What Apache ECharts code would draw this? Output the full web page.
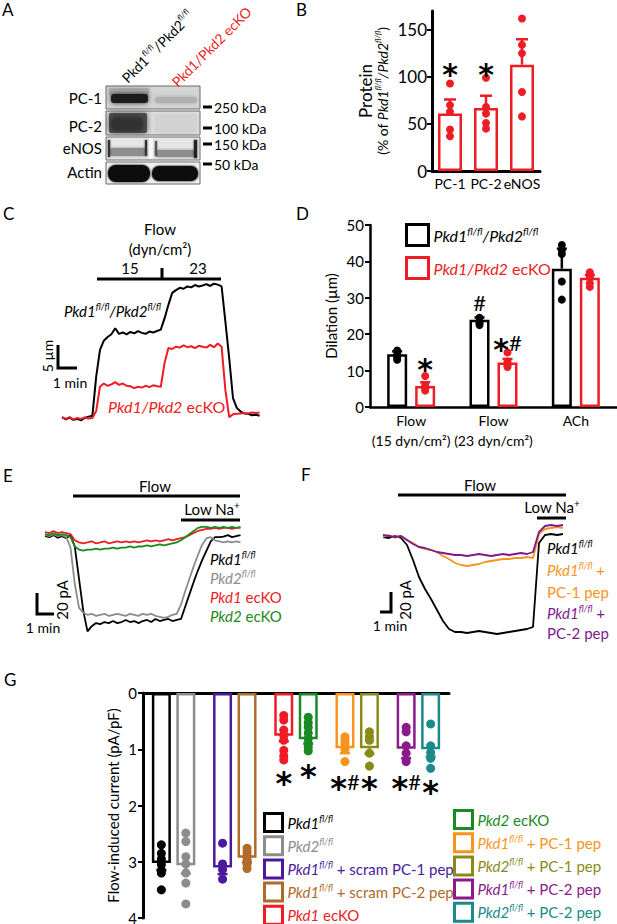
<!DOCTYPE html>
<html><head><meta charset="utf-8">
<script src="https://cdn.jsdelivr.net/npm/echarts@6/dist/echarts.min.js"></script>
<style>html,body{margin:0;padding:0;background:#fff}#c{width:617px;height:924px}</style>
</head><body><div id="c"></div>
<script>
const FONT = 'Lato, "Open Sans", sans-serif';

// ---------- Panel B data ----------
const bCategories = ['PC-1', 'PC-2', 'eNOS'];
const bMeans = [61, 67, 113];
const bSem = [15, 13, 27];
const bPoints = [[93, 70, 63, 44, 37], [99, 68, 61, 51, 45], [162, 134, 125, 84, 58]];
const bMarkText = ['*', '*', ''];
const bMarkY = [109, 109, null];
const bYTicks = [0, 50, 100, 150];

// ---------- Panel C data (diameter change, µm; 0.2 min steps) ----------
const cStep = 0.2;
const cControl = [0.2,-0.3,0.1,-0.4,-0.2,-0.5,0,0.3,0.5,9,14.8,16.8,17.6,18.2,19.5,18.3,18.6,18.2,18.7,18.4,18.9,18.5,18.3,18.8,18.6,18.9,19.2,21.7,24.6,27.2,27.8,28.3,28.1,28.6,28.4,28.9,28.6,28.8,29.1,28.7,29.2,29.0,28.6,20.9,13,4.3,2.2,1.4,1.0,0.9,0.6,0.7,0.5];
const cKO = [0.1,-0.2,0.2,-0.3,0,-0.2,0.1,-0.1,0.0,1.5,6.8,7.5,7.0,7.3,7.8,7.2,7.5,7.0,6.9,6.5,6.8,6.6,7.0,6.7,7.1,6.9,6.8,12,15.2,15.0,15.5,15.3,15.8,15.4,15.6,15.2,15.7,15.5,15.3,15.9,15.4,16.2,15.5,6,0.2,0.8,0.9,1.0,1.1,1.0,1.2,1.1,1.2];

// ---------- Panel D data ----------
const dCategories = ['Flow\n(15 dyn/cm\u00b2)', 'Flow\n(23 dyn/cm\u00b2)', 'ACh'];
const dSeriesNames = ['Pkd1fl/fl/Pkd2fl/fl', 'Pkd1/Pkd2 ecKO'];
const dControlMeans = [14.5, 24, 38];
const dControlSem = [0.8, 0.6, 5.5];
const dKOMeans = [5.8, 12.2, 35.5];
const dKOSem = [1.0, 1.0, 0.8];
const dControlPoints = [[15.5, 14.5, 13.5, 13], [24.5, 23.5, 23, 22.5], [44.5, 43, 42, 34.5, 29.5]];
const dKOPoints = [[8.5, 6, 5, 4.5], [15, 12.5, 11.5, 11], [37, 36, 35.5, 34, 33]];
const dControlMarkText = ['', '#', ''];
const dControlMarkY = [null, 28.5, null];
const dKOMarkText = ['*', '*#', ''];
const dKOMarkY = [12, 17.5, null];

// ---------- Panel E data (current, pA; 0.25 min steps) ----------
const eStep = 0.25;
const ePkd1fl = [-4,-5,-3,-5.5,-4,-6,-3,-14,-45,-76,-96,-91,-88,-89,-87,-88,-86,-88,-87,-85,-87,-86,-88,-86,-85,-87,-84,-86,-85,-84,-86,-85,-84,-72,-60,-48,-37,-27,-18,-9,-5,-5,-4.5,-3,-5,-4,-3];
const ePkd2fl = [-3,-4,-2,-4,-3,-5,-15,-50,-73,-78,-80,-79,-81,-80,-79,-81,-80,-79,-80,-81,-79,-80,-81,-79,-80,-79,-81,-82,-83,-82,-80,-79,-70,-57,-45,-33,-22,-12,-6,-5,-8,-9,-10,-9,-10,-9,-10];
const ePkd1KO = [0,-1,1,-1,0,-1,-2,-8,-10,-11,-10,-9,-11,-10,-9,-11,-10,-9,-10,-9,-10,-9,-10,-9,-8,-9,-8,-9,-8,-7,-8,-7,-6,-5,-3,-1,1,2,3,3,4,3,4,4,3,4,4];
const ePkd2KO = [-2,-3,-1,-3,-2,-3,-5,-14,-17,-18,-17,-17,-16,-17,-16,-16,-15,-16,-15,-15,-14,-15,-14,-14,-13,-14,-13,-12,-13,-12,-11,-10,-8,-5,-2,1,4,5,5,4,5,4,5,4,5,4,5];
const eLabels = ['Pkd1fl/fl', 'Pkd2fl/fl', 'Pkd1 ecKO', 'Pkd2 ecKO'];

// ---------- Panel F data (current, pA; 0.5 min steps) ----------
const fStep = 0.5;
const fControl = [0,-1,1,-1,-8,-23,-40,-52,-62,-73,-84,-92,-95,-95,-96,-95,-94,-95,-96,-97,-96,-95,-94,-93,-92,-90,-6,2,3,2,3];
const fPC1 = [0,2,-1,1,-3,-6,-10,-12,-13,-15,-19,-22,-26,-28,-29,-28,-27,-25,-24,-23,-22,-22,-21,-21,-20,-21,3,8,9,10,9];
const fPC2 = [2,1,0,1,-3,-7,-10,-11,-13,-15,-16,-17,-18,-18,-19,-18,-17,-18,-19,-18,-17,-18,-17,-16,-17,-15,5,11,12,11,12];
const fLabels = ['Pkd1fl/fl', 'Pkd1fl/fl +', 'PC-1 pep', 'Pkd1fl/fl +', 'PC-2 pep'];

// ---------- Panel G data (flow-induced current, pA/pF) ----------
const gGroups = ['Pkd1fl/fl', 'Pkd2fl/fl', 'Pkd1fl/fl + scram PC-1 pep', 'Pkd1fl/fl + scram PC-2 pep', 'Pkd1 ecKO',
                 'Pkd2 ecKO', 'Pkd1fl/fl + PC-1 pep', 'Pkd2fl/fl + PC-1 pep', 'Pkd1fl/fl + PC-2 pep', 'Pkd2fl/fl + PC-2 pep'];
const gMeans = [3.02, 3.06, 3.1, 2.93, 0.76, 0.82, 0.98, 0.98, 0.99, 1.0];
const gSem = [0.13, 0.15, 0.12, 0.08, 0.1, 0.08, 0.09, 0.1, 0.17, 0.13];
const gPoints = [
  [2.7, 2.85, 2.95, 3.05, 3.15, 3.2, 3.5],
  [2.49, 2.64, 2.91, 3.04, 3.2, 3.38, 3.75],
  [2.67, 3.04, 3.14, 3.31],
  [2.76, 2.82, 2.88, 2.95, 3.0, 3.05, 3.12],
  [0.4, 0.48, 0.66, 0.75, 0.84, 1.02, 1.12, 1.19],
  [0.43, 0.53, 0.61, 0.71, 0.81, 0.9, 0.96, 1.03],
  [0.78, 0.84, 0.9, 1.0, 1.22],
  [0.69, 0.78, 0.84, 1.07, 1.3],
  [0.61, 0.69, 0.94, 1.07, 1.22],
  [0.55, 0.94, 1.06, 1.16, 1.34]
];
const gMarkText = ['', '', '', '', '*', '*', '*#', '*', '*#', '*'];
const gMarkY = [null, null, null, null, 1.49, 1.37, 1.58, 1.58, 1.58, 1.65];

// ---------- styles ----------
const RED = '#ee1c24';
const gColors = ['#000000', '#8c8c8c', '#4a1a9e', '#b06a2a', '#ee1c24', '#1a8a24', '#f7941d', '#8a8a18', '#8b1a8b', '#1a8a8a'];

function rs(size, pre, italic, lh) {
  pre = pre || ''; const it = italic === false ? 'normal' : 'italic';
  const L = lh || Math.round(size * 1.2);
  const o = {};
  o[pre + 'n'] = {fontSize: size, fontFamily: FONT, lineHeight: L};
  o[pre + 'i'] = {fontSize: size, fontFamily: FONT, fontStyle: it, lineHeight: L};
  o[pre + 's'] = {fontSize: Math.round(size * 0.6), fontFamily: FONT, fontStyle: it, verticalAlign: 'top', lineHeight: Math.round(size * 0.72)};
  o[pre + 'p'] = {fontSize: Math.round(size * 0.65), fontFamily: FONT, verticalAlign: 'top', lineHeight: Math.round(size * 0.72)};
  return o;
}
function richText(s, pre) {
  pre = pre || '';
  let out = '', last = 0, m;
  const re = /(Pkd[12])|(fl\/fl)|(\/(?=Pkd))|(\^\+)/g;
  while ((m = re.exec(s))) {
    if (m.index > last) out += '{' + pre + 'n|' + s.slice(last, m.index) + '}';
    if (m[1]) out += '{' + pre + 'i|' + m[1] + '}';
    else if (m[2]) out += '{' + pre + 's|fl/fl}';
    else if (m[3]) out += '{' + pre + 'i|/}';
    else out += '{' + pre + 'p|+}';
    last = re.lastIndex;
  }
  if (last < s.length) out += '{' + pre + 'n|' + s.slice(last) + '}';
  return out;
}

function errRender(offset, colorFn, cap, lw) {
  return function (params, api) {
    const x = api.value(0), m = api.value(1), t = api.value(2);
    const a = api.coord([x, m]), b = api.coord([x, t]);
    const cx = a[0] + offset, c = colorFn(params.dataIndex);
    return {type: 'group', children: [
      {type: 'line', shape: {x1: cx, y1: a[1], x2: cx, y2: b[1]}, style: {stroke: c, lineWidth: lw}},
      {type: 'line', shape: {x1: cx - cap / 2, y1: b[1], x2: cx + cap / 2, y2: b[1]}, style: {stroke: c, lineWidth: lw}}
    ]};
  };
}
function markRender(texts, offset, starSize, hashSize) {
  return function (params, api) {
    const p = api.coord([api.value(0), api.value(1)]);
    const t = texts[api.value(2)];
    const txt = t.split('').map(ch => ch === '*' ? '{a|*}' : '{h|#}').join('');
    return {type: 'text', x: p[0] + offset, y: p[1] + starSize * 0.2, style: {
      text: txt, align: 'center', verticalAlign: 'middle', fill: '#000',
      rich: {a: {fontSize: starSize, fontWeight: 'bold', fontFamily: '"DejaVu Sans", sans-serif', lineHeight: starSize},
             h: {fontSize: hashSize, fontFamily: FONT, lineHeight: starSize, padding: [0, 0, Math.round(starSize * 0.42), 0]}}
    }};
  };
}
function markData(xs, ys) {
  const out = [];
  ys.forEach((y, k) => { if (y != null) out.push([xs[k], y, k]); });
  return out;
}

// ---------- G slot layout (pairs of bars with gaps) ----------
const gSlots = ['s0'];
const gSlotOf = [];
gGroups.forEach((g, k) => {
  if (k > 0) { if (k % 2 === 0) gSlots.push('s' + gSlots.length, 's' + (gSlots.length + 1)); else gSlots.push('s' + gSlots.length); }
  gSlotOf.push(gSlots.length); gSlots.push(g);
});
gSlots.push('s' + gSlots.length);

const axisBlack = {lineStyle: {color: '#000', width: 3}};
const series = [];

// ---------- B series ----------
series.push({type: 'bar', xAxisIndex: 0, yAxisIndex: 0, data: bMeans, barWidth: 24, z: 2,
  itemStyle: {color: 'rgba(255,255,255,0)', borderColor: RED, borderWidth: 2.5}});
series.push({type: 'custom', xAxisIndex: 0, yAxisIndex: 0, z: 3,
  data: bMeans.map((m, i) => [i, m, m + bSem[i]]), renderItem: errRender(0, () => RED, 12, 2.5)});
series.push({type: 'scatter', xAxisIndex: 0, yAxisIndex: 0, z: 4, symbolSize: 8,
  itemStyle: {color: RED, opacity: 1}, data: [].concat(...bPoints.map((arr, i) => arr.map(v => [i, v])))});
series.push({type: 'custom', xAxisIndex: 0, yAxisIndex: 0, z: 5,
  data: markData([0, 1, 2], bMarkY), renderItem: markRender(bMarkText, 0, 30, 22)});

// ---------- C series ----------
series.push({type: 'line', xAxisIndex: 1, yAxisIndex: 1, showSymbol: false, lineStyle: {color: '#000', width: 2},
  data: cControl.map((v, i) => [i * cStep, v])});
series.push({type: 'line', xAxisIndex: 1, yAxisIndex: 1, showSymbol: false, lineStyle: {color: RED, width: 2},
  data: cKO.map((v, i) => [i * cStep, v])});

// ---------- D series ----------
const dColors = ['#000', RED];
const dSets = [[dControlMeans, dControlSem, dControlPoints, dControlMarkText, dControlMarkY, -14],
               [dKOMeans, dKOSem, dKOPoints, dKOMarkText, dKOMarkY, 14]];
dSets.forEach((d, s) => {
  series.push({type: 'bar', name: dSeriesNames[s], xAxisIndex: 2, yAxisIndex: 2, data: d[0], barWidth: 20, barGap: '40%', z: 2,
    itemStyle: {color: 'rgba(255,255,255,0)', borderColor: dColors[s], borderWidth: 2.5}});
});
dSets.forEach((d, s) => {
  series.push({type: 'custom', xAxisIndex: 2, yAxisIndex: 2, z: 3,
    data: d[0].map((m, i) => [i, m, m + d[1][i]]), renderItem: errRender(d[5], () => dColors[s], 10, 2.5)});
  series.push({type: 'scatter', xAxisIndex: 2, yAxisIndex: 2, z: 4, symbolSize: 8, symbolOffset: [d[5], 0],
    itemStyle: {color: dColors[s], opacity: 1}, data: [].concat(...d[2].map((arr, i) => arr.map(v => [i, v])))});
  series.push({type: 'custom', xAxisIndex: 2, yAxisIndex: 2, z: 5,
    data: markData([0, 1, 2], d[4]), renderItem: markRender(d[3], d[5], 30, 22)});
});

// ---------- E series ----------
const eColors = ['#000000', '#8c8c8c', RED, '#1a8a1a'];
[ePkd1fl, ePkd2fl, ePkd1KO, ePkd2KO].forEach((arr, k) => {
  series.push({type: 'line', xAxisIndex: 3, yAxisIndex: 3, showSymbol: false, lineStyle: {color: eColors[k], width: 1.8},
    data: arr.map((v, i) => [i * eStep, v])});
});

// ---------- F series ----------
const fColors = ['#000000', '#f7941d', '#7d1a8c'];
[fControl, fPC1, fPC2].forEach((arr, k) => {
  series.push({type: 'line', xAxisIndex: 4, yAxisIndex: 4, showSymbol: false, lineStyle: {color: fColors[k], width: 1.8},
    data: arr.map((v, i) => [i * fStep, v])});
});

// ---------- G series ----------
gGroups.forEach((g, k) => {
  const data = gSlots.map((_, j) => j === gSlotOf[k] ? gMeans[k] : '-');
  series.push({type: 'bar', name: g, stack: 'g', xAxisIndex: 5, yAxisIndex: 5, data, barWidth: 19, z: 2,
    itemStyle: {color: 'rgba(255,255,255,0)', borderColor: gColors[k], borderWidth: 2.5}});
});
series.push({type: 'custom', xAxisIndex: 5, yAxisIndex: 5, z: 3,
  data: gMeans.map((m, k) => [gSlotOf[k], m, m + gSem[k]]), renderItem: errRender(0, i => gColors[i], 10, 2.5)});
series.push({type: 'scatter', xAxisIndex: 5, yAxisIndex: 5, z: 4, symbolSize: 9,
  data: [].concat(...gPoints.map((arr, k) => arr.map(v => ({value: [gSlotOf[k], v], itemStyle: {color: gColors[k], opacity: 1}}))))});
series.push({type: 'custom', xAxisIndex: 5, yAxisIndex: 5, z: 5,
  data: markData(gSlotOf, gMarkY), renderItem: markRender(gMarkText, 0, 32, 22)});

// ---------- graphics ----------
const G = [];
function T(x, y, text, o) {
  o = o || {};
  const st = {text, fill: o.color || '#000', fontSize: o.size || 15, fontFamily: FONT,
    fontStyle: o.italic ? 'italic' : 'normal', align: o.align || 'center', verticalAlign: o.va || 'middle'};
  if (o.rich) st.rich = o.rich;
  G.push({type: 'text', x, y, rotation: o.rot || 0, z: 100, style: st});
}
function PL(points, w, color) { G.push({type: 'polyline', z: 100, shape: {points}, style: {stroke: color || '#000', lineWidth: w || 3, fill: null}}); }
function RC(x, y, w, h, fill, extra) {
  extra = extra || {};
  G.push({type: 'rect', z: 50, shape: {x, y, width: w, height: h, r: extra.r || 0}, style: Object.assign({fill}, extra.style || {})});
}

[['A', 2, 9], ['B', 296, 9], ['C', 3, 213], ['D', 296, 213], ['E', 3, 475], ['F', 301, 474], ['G', 4, 679]].forEach(p => T(p[1], p[2], p[0], {size: 17, align: 'left'}));

// Panel A : western blot (picture)
const blotRows = [[86, 109], [111, 135], [137, 160], [162, 184]];
RC(106, 86, 94, 23, '#d4d4d4');
RC(109, 88, 40, 7, '#a8a8a8', {style: {shadowBlur: 4, shadowColor: '#a8a8a8'}});
RC(111, 94, 37, 9, '#1e1e1e', {r: 3, style: {shadowBlur: 5, shadowColor: 'rgba(0,0,0,0.8)'}});
RC(155, 97, 42, 6, '#b0b0b0', {r: 3, style: {shadowBlur: 4, shadowColor: '#a8a8a8'}});
RC(106, 111, 94, 24, '#dedede');
RC(109, 113, 38, 20, '#4a4a4a', {r: 2, style: {shadowBlur: 6, shadowColor: 'rgba(0,0,0,0.6)'}});
RC(112, 118, 30, 12, '#333', {r: 4, style: {shadowBlur: 5, shadowColor: 'rgba(0,0,0,0.6)'}});
RC(155, 114, 42, 19, '#d2d2d2', {style: {shadowBlur: 4, shadowColor: '#d2d2d2'}});
RC(106, 137, 94, 23, '#e6e6e6');
RC(110, 148, 36, 8, '#8e8e8e', {r: 2, style: {shadowBlur: 3, shadowColor: '#909090'}});
RC(156, 150, 39, 7, '#8e8e8e', {r: 2, style: {shadowBlur: 3, shadowColor: '#909090'}});
RC(108, 140, 2, 17, '#333', {style: {shadowBlur: 2, shadowColor: '#333'}});
RC(145, 140, 2, 16, '#333', {style: {shadowBlur: 2, shadowColor: '#333'}});
RC(149, 138, 4, 21, '#f6f6f6');
RC(155, 141, 2, 15, '#555', {style: {shadowBlur: 2, shadowColor: '#555'}});
RC(194, 140, 3, 18, '#222', {style: {shadowBlur: 2, shadowColor: '#222'}});
RC(106, 162, 94, 22, '#efefef');
RC(108, 165, 42, 17, '#0d0d0d', {r: 8, style: {shadowBlur: 2, shadowColor: '#000'}});
RC(152, 166, 46, 15, '#111111', {r: 7, style: {shadowBlur: 2, shadowColor: '#000'}});
blotRows.forEach(r => G.push({type: 'rect', z: 60, shape: {x: 106, y: r[0], width: 94, height: r[1] - r[0]}, style: {fill: null, stroke: '#6a6a6a', lineWidth: 1}}));
[['PC-1', 98], ['PC-2', 126], ['eNOS', 148], ['Actin', 172]].forEach(p => T(102, p[1], p[0], {size: 15, align: 'right'}));
[['250 kDa', 107], ['100 kDa', 128], ['150 kDa', 144], ['50 kDa', 164]].forEach(p => {
  PL([[203, p[1]], [212, p[1]]], 3);
  T(214, p[1], p[0], {size: 14, align: 'left'});
});
T(130, 86, richText('Pkd1fl/fl/Pkd2fl/fl', 'a'), {rot: Math.PI / 4, align: 'left', va: 'bottom', rich: rs(14, 'a', false)});
T(180, 90, richText('Pkd1/Pkd2 ecKO', 'a'), {rot: Math.PI / 4, align: 'left', va: 'bottom', color: RED, rich: rs(14, 'a', false)});

// Panel C annotations
T(160, 229, 'Flow', {size: 15});
T(160, 249, '(dyn/cm\u00b2)', {size: 15});
T(130, 268, '15', {size: 15});
T(198, 268, '23', {size: 15});
PL([[97, 279], [221, 279]], 3);
PL([[162, 268], [162, 279]], 3);
T(64, 311, richText('Pkd1fl/fl/Pkd2fl/fl'), {align: 'left', rich: rs(15)});
T(108, 406, richText('Pkd1/Pkd2 ecKO'), {align: 'left', color: RED, rich: rs(16)});
PL([[58, 345], [58, 368], [77, 368]], 3);
T(47, 356, '5 \u00b5m', {size: 14, rot: Math.PI / 2});
T(70, 382, '1 min', {size: 14});

// Panel E annotations
T(155, 486, 'Flow', {size: 15});
PL([[73, 496], [240, 496]], 3);
T(212, 509, richText('Low Na^+'), {rich: rs(15)});
PL([[181, 520], [240, 520]], 3);
[559, 578, 597, 616].forEach((y, k) => T(210, y, richText(eLabels[k]), {align: 'left', color: eColors[k], rich: rs(15)}));
PL([[37, 593], [37, 614], [54, 614]], 3);
T(62, 600, '20 pA', {size: 15, rot: Math.PI / 2});
T(43, 627, '1 min', {size: 14});

// Panel F annotations
T(480, 485, 'Flow', {size: 15});
PL([[398, 495], [566, 495]], 3);
T(552, 507, richText('Low Na^+'), {rich: rs(15)});
PL([[537, 518], [566, 518]], 3);
[[548, 0], [570, 1], [592, 1], [613, 2], [633, 2]]
  .forEach((p, k) => T(547, p[0], richText(fLabels[k]), {align: 'left', color: fColors[p[1]], rich: rs(15)}));
PL([[380, 612], [391, 612], [391, 592]], 3);
T(405, 600, '20 pA', {size: 15, rot: Math.PI / 2});
T(390, 625, '1 min', {size: 14});

// ---------- legends ----------
function legendItems(names, colors) {
  return names.map((n, k) => ({name: n, icon: 'rect',
    itemStyle: {color: '#fff', borderColor: colors[k], borderWidth: 3},
    textStyle: {color: colors[k]}}));
}
const legendBase = {orient: 'vertical', selectedMode: false, formatter: n => richText(n), padding: 0, height: 160};

const option = {
  animation: false,
  backgroundColor: '#fff',
  textStyle: {fontFamily: FONT},
  grid: [
    {left: 432, top: 11, width: 108, height: 160, outerBoundsMode: 'none'},
    {left: 62, top: 280, width: 200, height: 150, outerBoundsMode: 'none'},
    {left: 370, top: 225, width: 247, height: 182, outerBoundsMode: 'none'},
    {left: 45, top: 522, width: 195, height: 118, outerBoundsMode: 'none'},
    {left: 383, top: 522, width: 183, height: 118, outerBoundsMode: 'none'},
    {left: 143, top: 693, width: 306, height: 225, outerBoundsMode: 'none'}
  ],
  xAxis: [
    {gridIndex: 0, type: 'category', data: bCategories, axisLine: axisBlack, axisTick: {show: false},
      axisLabel: {color: '#000', fontSize: 14, margin: 5, interval: 0, fontFamily: FONT}},
    {gridIndex: 1, type: 'value', min: 0, max: 200 / 19, show: false},
    {gridIndex: 2, type: 'category', data: dCategories, axisLine: {lineStyle: {color: '#000', width: 2.5}}, axisTick: {show: false},
      axisLabel: {color: '#000', fontSize: 14, margin: 3, lineHeight: 20, interval: 0, fontFamily: FONT}},
    {gridIndex: 3, type: 'value', min: 0, max: 195 / 17, show: false},
    {gridIndex: 4, type: 'value', min: 0, max: 183 / 12, show: false},
    {gridIndex: 5, type: 'category', data: gSlots, position: 'top', axisLine: {onZero: false, lineStyle: {color: '#000', width: 3}},
      axisTick: {show: false}, axisLabel: {show: false}}
  ],
  yAxis: [
    {gridIndex: 0, type: 'value', min: 0, max: 170, interval: 50, splitLine: {show: false},
      axisLine: {show: true, lineStyle: {color: '#000', width: 3}},
      axisTick: {show: true, length: 5, lineStyle: {color: '#000', width: 2}, customValues: bYTicks},
      axisLabel: {color: '#000', fontSize: 17, margin: 5, fontFamily: FONT, hideOverlap: false,
        formatter: v => bYTicks.indexOf(v) >= 0 ? String(v) : ''},
      name: '{pn|Protein}\n' + richText('(% of Pkd1fl/fl/Pkd2fl/fl)', 'q'), nameLocation: 'middle', nameRotate: 90, nameGap: 41,
      nameMoveOverlap: false,
      nameTextStyle: {color: '#000', fontSize: 16, rich: Object.assign({pn: {fontSize: 17, fontFamily: FONT, lineHeight: 18}}, rs(14, 'q'))}},
    {gridIndex: 1, type: 'value', min: -12 / 4.6, max: 138 / 4.6, show: false},
    {gridIndex: 2, type: 'value', min: 0, max: 50, interval: 10, splitLine: {show: false},
      axisLine: {show: true, lineStyle: {color: '#000', width: 2.5}},
      axisTick: {show: true, length: 5, lineStyle: {color: '#000', width: 2}},
      axisLabel: {color: '#000', fontSize: 15, margin: 6, fontFamily: FONT},
      name: 'Dilation (\u00b5m)', nameLocation: 'middle', nameRotate: 90, nameGap: 32,
      nameTextStyle: {color: '#000', fontSize: 15, fontFamily: FONT}},
    {gridIndex: 3, type: 'value', min: -108 / 1.035, max: 10 / 1.035, show: false},
    {gridIndex: 4, type: 'value', min: -103, max: 15, show: false},
    {gridIndex: 5, type: 'value', inverse: true, min: 0, max: 4, interval: 1, splitLine: {show: false},
      axisLine: {show: true, onZero: false, lineStyle: {color: '#000', width: 3}},
      axisTick: {show: true, length: 5, lineStyle: {color: '#000', width: 2}},
      axisLabel: {color: '#000', fontSize: 15, margin: 6, fontFamily: FONT},
      name: 'Flow-induced current (pA/pF)', nameLocation: 'middle', nameRotate: 90, nameGap: 23,
      nameTextStyle: {color: '#000', fontSize: 15, fontFamily: FONT}}
  ],
  legend: [
    Object.assign({}, legendBase, {left: 405, top: 223, itemWidth: 22, itemHeight: 21, itemGap: 9,
      data: legendItems(dSeriesNames, dColors), textStyle: {fontSize: 16, rich: rs(16)}}),
    Object.assign({}, legendBase, {left: 263, top: 812, itemWidth: 18, itemHeight: 18, itemGap: 2.2,
      data: legendItems(gGroups.slice(0, 5), gColors.slice(0, 5)), textStyle: {fontSize: 15, rich: rs(15, '', true, 18)}}),
    Object.assign({}, legendBase, {left: 453, top: 809, itemWidth: 18, itemHeight: 18, itemGap: 2.2,
      data: legendItems(gGroups.slice(5), gColors.slice(5)), textStyle: {fontSize: 15, rich: rs(15, '', true, 18)}})
  ],
  graphic: G,
  series
};
const chart = echarts.init(document.getElementById('c'), null, {renderer: 'svg', width: 617, height: 924});
chart.setOption(option);
</script></body></html>
